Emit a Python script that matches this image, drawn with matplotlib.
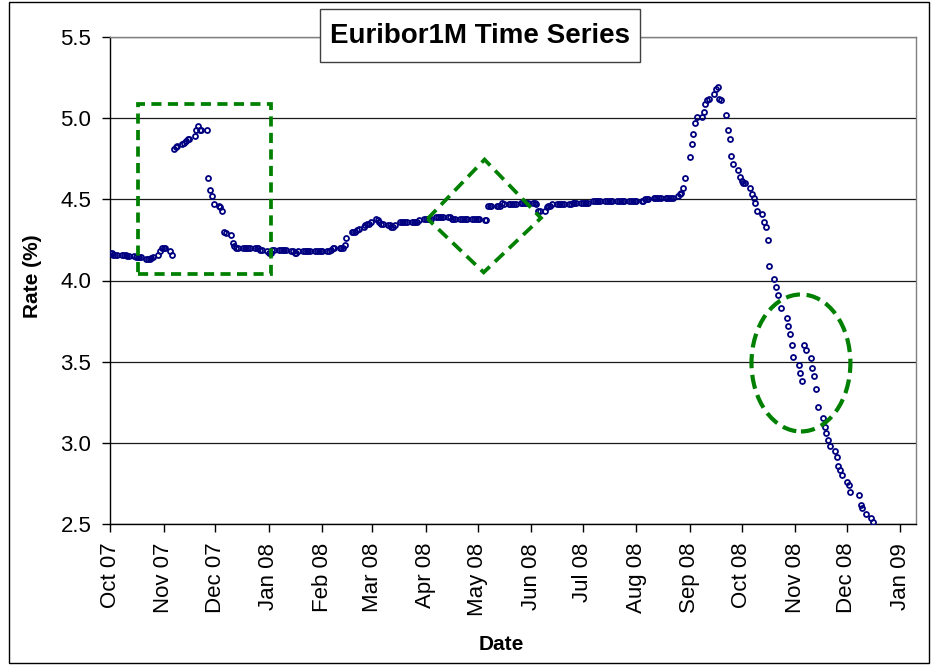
import numpy as np
import pandas as pd
import matplotlib
matplotlib.use("Agg")
import matplotlib.pyplot as plt
import matplotlib.dates as mdates
from matplotlib.patches import Rectangle, Polygon, Ellipse
from matplotlib.ticker import FormatStrFormatter

plt.rcParams['font.family'] = ['Liberation Sans', 'DejaVu Sans']

nan = np.nan
# Euribor 1M (%) - one value per business day of each month (nan = no point drawn)
month_keys = ['2007-10', '2007-11', '2007-12', '2008-01', '2008-02', '2008-03',
              '2008-04', '2008-05', '2008-06', '2008-07', '2008-08', '2008-09',
              '2008-10', '2008-11', '2008-12']

oct07 = [4.17, 4.17, 4.16, 4.16, 4.16,
         4.16, 4.16, 4.16, 4.15, 4.15,
         4.15, 4.145, 4.145, 4.145, 4.145,
         4.13, 4.13, 4.13, 4.14, 4.145,
         4.16, 4.18, 4.20]
nov07 = [4.20, 4.20,
         4.18, 4.16, 4.81, 4.82, 4.83,
         4.84, 4.85, 4.86, 4.87, 4.87,
         4.89, 4.93, 4.95, 4.93, 4.93,
         4.93, 4.63, 4.56, 4.52, 4.47]
dec07 = [4.46, 4.45, 4.43, 4.30, 4.29,
         4.28, 4.23, 4.21, 4.20, 4.20,
         4.20, 4.20, 4.20, 4.20, 4.20,
         4.20, 4.20, 4.20, 4.19, 4.19,
         4.18]
jan08 = [4.17, 4.17, 4.19, 4.19,
         4.19, 4.19, 4.19, 4.19, 4.19,
         4.18, 4.18, 4.17, 4.17, 4.18,
         4.18, 4.18, 4.18, 4.18, 4.18,
         4.18, 4.18, 4.18, 4.18]
feb08 = [4.18,
         4.18, 4.18, 4.19, 4.20, 4.20,
         4.20, 4.20, 4.20, 4.22, 4.26,
         4.30, 4.30, 4.30, 4.31, 4.32,
         4.33, 4.34, 4.35, 4.35, 4.36]
mar08 = [4.38, 4.37, 4.36, 4.35, 4.35,
         4.34, 4.34, 4.33, 4.33, 4.34,
         4.36, 4.36, 4.36, 4.36, 4.36,
         4.36, 4.36, 4.36, 4.36, 4.37,
         4.38]
apr08 = [4.38, 4.38, 4.38, 4.38,
         4.39, 4.39, 4.39, 4.39, 4.39,
         4.39, 4.39, 4.38, 4.38, 4.38,
         4.38, 4.38, 4.38, 4.38, 4.38,
         4.38, 4.38, 4.38]
may08 = [4.38, 4.38,
         4.37, 4.37, 4.46, 4.46, 4.46,
         4.46, 4.46, 4.46, 4.48, 4.47,
         4.47, 4.47, 4.47, 4.47, 4.47,
         4.48, 4.48, 4.48, 4.48, 4.48]
jun08 = [4.48, 4.48, 4.47, 4.43, 4.43,
         4.43, 4.45, 4.46, 4.46, 4.47,
         4.47, 4.47, 4.47, 4.47, 4.47,
         4.47, 4.47, 4.48, 4.48, 4.48,
         4.48]
jul08 = [4.48, 4.48, 4.48, 4.48,
         4.49, 4.49, 4.49, 4.49, 4.49,
         4.49, 4.49, 4.49, 4.49, 4.49,
         4.49, 4.49, 4.49, 4.49, 4.49,
         4.49, 4.49, 4.49, 4.49]
aug08 = [4.49,
         4.49, 4.49, 4.50, 4.50, 4.50,
         4.51, 4.51, 4.51, 4.51, 4.51,
         4.51, 4.51, 4.51, 4.51, 4.51,
         4.52, 4.53, 4.54, 4.57, 4.63]
sep08 = [4.76, 4.84, 4.90, 4.97, 5.01,
         5.01, 5.04, 5.09, 5.11, 5.12,
         5.15, 5.18, 5.19, 5.12, 5.11,
         5.02, 4.93, 4.87, 4.77, 4.72,
         4.68, 4.64]
oct08 = [4.61, 4.60, 4.60,
         4.57, 4.53, 4.51, 4.48, 4.43,
         4.41, 4.36, 4.33, 4.25, 4.09,
         4.01, 3.96, 3.91, nan, 3.83,
         3.77, 3.72, 3.67, 3.60, 3.53]
nov08 = [3.48, 3.43, 3.38, 3.60, 3.57,
         3.52, 3.46, 3.41, 3.33, 3.22,
         3.15, 3.10, 3.06, 3.02, 2.98,
         2.95, 2.91, 2.86, 2.83, 2.80]
dec08 = [2.76, 2.74, 2.70, nan, nan,
         2.68, 2.62, 2.60, nan, 2.56,
         2.54, 2.51]

month_values = [oct07, nov07, dec07, jan08, feb08, mar08, apr08, may08,
                jun08, jul08, aug08, sep08, oct08, nov08, dec08]

title = "Euribor1M Time Series"
x_label = "Date"
y_label = "Rate (%)"

dates, rates = [], []
for key, vals in zip(month_keys, month_values):
    p = pd.Period(key, freq='M')
    days = pd.bdate_range(p.start_time, p.end_time.normalize())
    for d, v in zip(days, vals):
        dates.append(d)
        rates.append(v)
dates = pd.DatetimeIndex(dates)
rates = np.array(rates, dtype=float)

W, H = 933, 668
fig = plt.figure(figsize=(W / 100, H / 100), dpi=100)
fig.patch.set_facecolor('white')

ax_l, ax_r, ax_t, ax_b = 110, 916, 37, 524
ax = fig.add_axes([ax_l / W, 1 - ax_b / H, (ax_r - ax_l) / W, (ax_b - ax_t) / H])

ax.plot(dates, rates, linestyle='none', marker='o', ms=3.6, mew=1.3,
        mec='#000080', mfc='none', zorder=3)

ax.set_xlim(pd.Timestamp('2007-10-01'), pd.Timestamp('2009-01-10'))
ax.set_ylim(2.5, 5.5)
ax.set_yticks(np.arange(2.5, 5.51, 0.5))
ax.yaxis.set_major_formatter(FormatStrFormatter('%.1f'))
ax.xaxis.set_major_locator(mdates.MonthLocator())
ax.xaxis.set_major_formatter(mdates.DateFormatter('%b %y'))

ax.grid(axis='y', color='#1a1a1a', lw=0.9, zorder=1)
ax.set_axisbelow(True)
for s in ('left', 'bottom'):
    ax.spines[s].set_color('black')
    ax.spines[s].set_linewidth(1.0)
for s in ('top', 'right'):
    ax.spines[s].set_color('#808080')
    ax.spines[s].set_linewidth(1.0)

ax.tick_params(axis='both', direction='out', length=5.5, width=1.0,
               labelsize=16, pad=8, colors='black')
for lab in ax.get_xticklabels():
    lab.set_rotation(90)

# annotation shapes
green = '#008000'
x0 = mdates.date2num(pd.Timestamp('2007-10-17'))
rect = Rectangle((x0, 4.04), 77.1, 1.045, fill=False, edgecolor=green,
                 lw=2.7, linestyle=(0, (2.7, 1.7)), zorder=5)
ax.add_patch(rect)

dc = mdates.date2num(pd.Timestamp('2008-05-05'))
diamond = Polygon([(dc - 33.0, 4.38), (dc, 4.745), (dc + 32.7, 4.385), (dc - 0.5, 4.05)],
                  closed=True, fill=False, edgecolor=green, lw=2.7,
                  linestyle=(0, (3.3, 1.9)), zorder=5)
ax.add_patch(diamond)

ec = mdates.date2num(pd.Timestamp('2008-11-04 08:00'))
ell = Ellipse((ec, 3.492), 57.3, 0.844, fill=False, edgecolor=green, lw=3.0,
              linestyle=(0, (3.4, 1.6)), zorder=5)
ax.add_patch(ell)

# labels
fig.text(32 / W, 1 - 276 / H, y_label, rotation=90, ha='center', va='center',
         fontsize=15, fontweight='bold')
fig.text(501 / W, 1 - 644 / H, x_label, ha='center', va='center',
         fontsize=15, fontweight='bold')

# title box
fig.add_artist(Rectangle((320 / W, 1 - 62 / H), 320 / W, 53 / H,
                         transform=fig.transFigure, facecolor='white',
                         edgecolor='#404040', lw=1.0, zorder=10))
fig.text(480.5 / W, 1 - 36 / H, title, ha='center', va='center',
         fontsize=20, fontweight='bold', zorder=11)

# chart area frame
fig.add_artist(Rectangle((8.5 / W, 1 - 662.5 / H), 920 / W, 661 / H,
                         transform=fig.transFigure, fill=False,
                         edgecolor='black', lw=1.0, zorder=12))

fig.savefig('out.png', dpi=100, facecolor='white')
